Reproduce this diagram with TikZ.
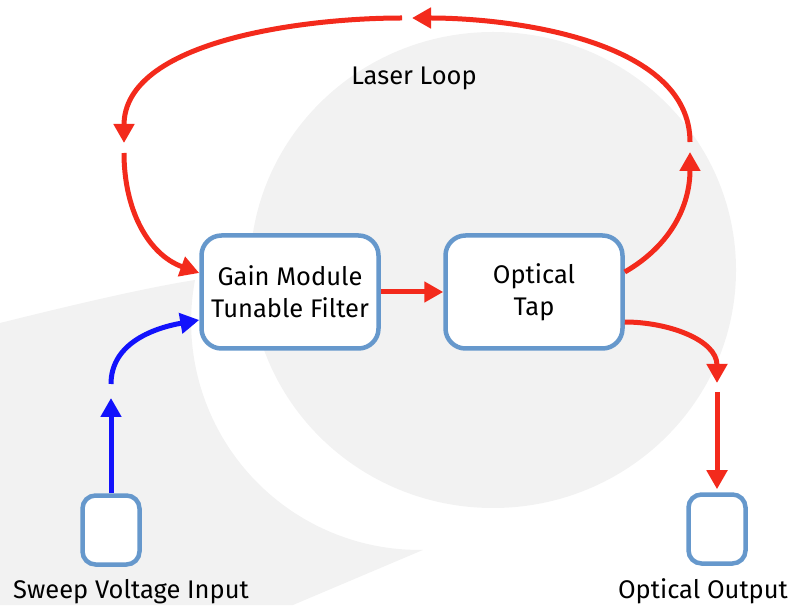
\documentclass[tikz,border=0pt]{standalone}
\usepackage{fontspec}
\setmainfont{Fira Sans}
\usetikzlibrary{arrows.meta}
\definecolor{laserred}{RGB}{243,42,28}
\definecolor{sweepblue}{RGB}{18,18,252}
\definecolor{boxblue}{RGB}{102,152,204}
\definecolor{logogrey}{RGB}{242,242,242}

\begin{document}
\begin{tikzpicture}[
    x = 1pt, y = 1pt,
    module/.style = {
      rectangle, rounded corners = 20pt, draw = boxblue, line width = 4.5pt,
      fill = white, minimum width = 177pt, minimum height = 113pt,
      align = center, font = \fontsize{25.5}{32}\selectfont, inner sep = 0pt
    },
    port/.style = {
      rectangle, rounded corners = 13pt, draw = boxblue, line width = 4.5pt,
      fill = white, minimum width = 57pt, minimum height = 69pt
    },
    caption/.style = { anchor = base, font = \fontsize{25.5}{30}\selectfont },
    beam/.style = { draw = laserred, line width = 5pt,
      -{Triangle[length = 19pt, width = 20pt]} },
    sweep/.style = { beam, draw = sweepblue }
  ]
    \useasboundingbox (0,0) rectangle (789,605);
    \fill [logogrey] (493,335) ellipse [x radius = 243, y radius = 238];
    \fill [logogrey] (0,282) .. controls (80,302) and (150,318) .. (195,325)
      arc [start angle = 169.4, end angle = 271, radius = 228]
      -- (293,0) -- (0,0) -- cycle;

    \node [module] (gain) at (290,313) {Gain Module\\Tunable Filter};
    \node [module] (tap) at (534,313) {Optical\\Tap};
    \node [port] (input) at (111,75) {};
    \node [port] (output) at (717,76) {};
    \node [caption] (input-label) at (131,7) {Sweep Voltage Input};
    \node [caption] (output-label) at (703,7) {Optical Output};
    \node [caption] (loop-label) at (414,520) {Laser Loop};

    \coordinate (r-tip) at (690,453);
    \coordinate (r-go) at (690,463);
    \coordinate (t-tip) at (412,587);
    \coordinate (t-go) at (402,587);
    \coordinate (l-tip) at (124,462);
    \coordinate (l-go) at (124,452);
    \coordinate (d-tip) at (717,222);
    \coordinate (d-go) at (717,213);
    \coordinate (b-tip) at (111,207);
    \coordinate (b-go) at (111,221);

    \draw [beam] (gain.east) -- (tap.west);
    \draw [beam] ([yshift = 20pt] tap.east) to [out = 30, in = -90] (r-tip);
    \draw [beam] (r-go) to [out = 90, in = 0, looseness = 0.85] (t-tip);
    \draw [beam] (t-go) to [out = 180, in = 90, looseness = 0.85] (l-tip);
    \draw [beam] (l-go) to [out = -90, in = 160] ([yshift = 19pt] gain.west);
    \draw [beam] ([yshift = -30pt] tap.east) to [out = 0, in = 90] (d-tip);
    \draw [beam, shorten > = 3pt] (d-go) -- (output.north);
    \draw [sweep] (input.north) -- (b-tip);
    \draw [sweep] (b-go) to [out = 90, in = 190] ([yshift = -28pt] gain.west);
\end{tikzpicture}
\end{document}
